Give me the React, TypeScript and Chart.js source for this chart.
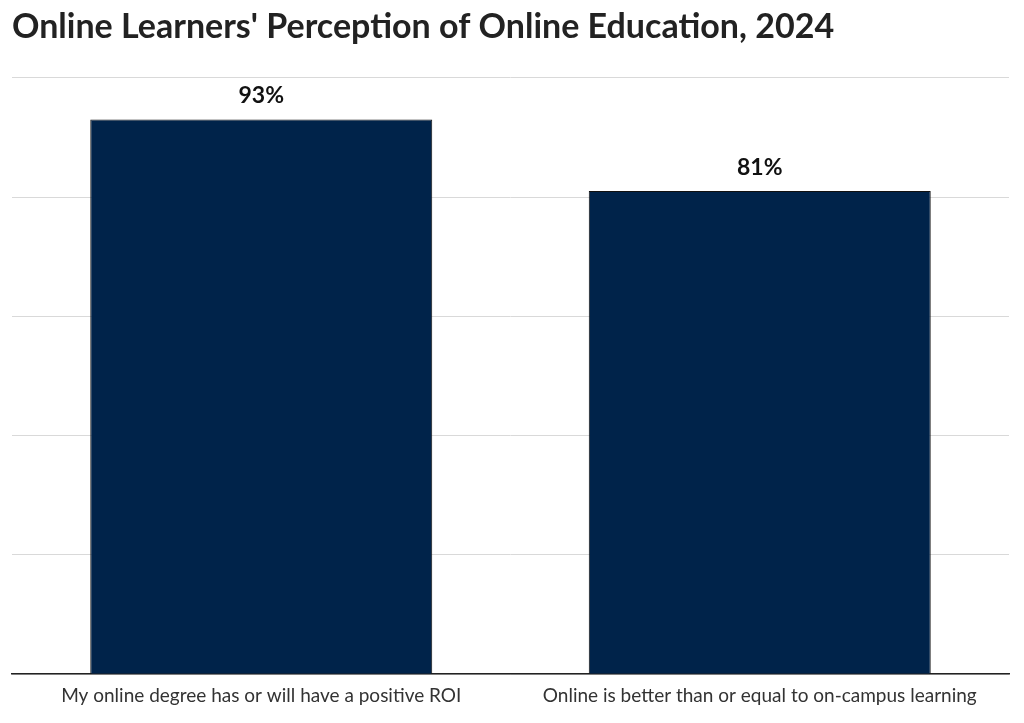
import { useEffect, useRef } from 'react'
import { Chart, registerables } from 'chart.js'

Chart.register(...registerables)

const TITLE = "Online Learners' Perception of Online Education, 2024"
const CATEGORIES = [
  'My online degree has or will have a positive ROI',
  'Online is better than or equal to on-campus learning',
]
const SHARE_PCT = [93, 81]
const BAR_COLOR = '#00234a'
const FONT = 'Lato, "Open Sans", sans-serif'

/** Draws the "93%" style value labels above each bar. */
const valueLabels = {
  id: 'valueLabels',
  afterDatasetsDraw(chart: Chart) {
    const { ctx } = chart
    const meta = chart.getDatasetMeta(0)
    ctx.save()
    ctx.font = `bold 23px ${FONT}`
    ctx.fillStyle = '#111'
    ctx.textAlign = 'center'
    ctx.textBaseline = 'middle'
    meta.data.forEach((bar: any, i: number) => {
      ctx.fillText(`${SHARE_PCT[i]}%`, bar.x, bar.y - 24)
    })
    ctx.restore()
  },
}

export default function App() {
  const canvasRef = useRef<HTMLCanvasElement>(null)
  const chartRef = useRef<Chart | null>(null)

  useEffect(() => {
    document.body.style.margin = '0'
    const el = canvasRef.current
    if (!el) return
    try { chartRef.current?.destroy() } catch { /* noop */ }
    chartRef.current = new Chart(el, {
      type: 'bar',
      data: {
        labels: CATEGORIES,
        datasets: [
          {
            label: 'Share',
            data: SHARE_PCT,
            backgroundColor: BAR_COLOR,
            borderColor: '#111',
            borderWidth: 1,
            borderSkipped: 'bottom',
            barPercentage: 0.686,
            categoryPercentage: 1,
          },
        ],
      },
      options: {
        responsive: true,
        maintainAspectRatio: false,
        animation: false,
        layout: { padding: { left: 12, right: 15, top: 4, bottom: 6 } },
        plugins: {
          legend: { display: false },
          tooltip: { enabled: false },
          title: {
            display: true,
            text: TITLE,
            align: 'start',
            color: '#222',
            font: { family: FONT, size: 34, weight: 'bold' },
            padding: { top: 3, bottom: 30 },
          },
        },
        scales: {
          x: {
            grid: { display: false, drawTicks: false },
            border: { display: true, color: '#222', width: 1.5 },
            ticks: {
              color: '#333',
              padding: 10,
              maxRotation: 0,
              font: { family: FONT, size: 19 },
            },
          },
          y: {
            min: 0,
            max: 100,
            grid: { color: '#d9d9d9', drawTicks: false },
            border: { display: false },
            ticks: { display: false, stepSize: 20 },
          },
        },
      },
      plugins: [valueLabels],
    })
    return () => { try { chartRef.current?.destroy() } catch { /* noop */ } }
  }, [])

  return (
    <div style={{ width: 1024, height: 723, position: 'relative', background: '#fff' }}>
      <canvas ref={canvasRef} />
    </div>
  )
}
